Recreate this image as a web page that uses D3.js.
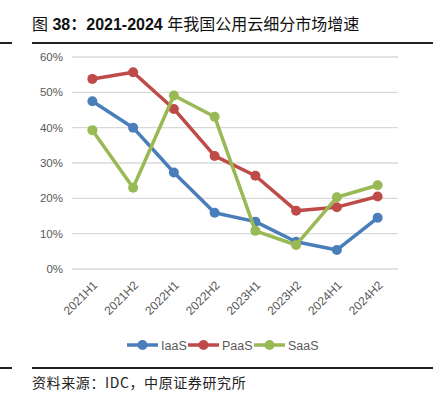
<!DOCTYPE html>
<html>
<head>
<meta charset="utf-8">
<script src="https://cdn.jsdelivr.net/npm/d3@7"></script>
<style>
  body { margin: 0; background: #fff; }
  svg { display: block; }
</style>
</head>
<body>
<svg id="chart" width="433" height="398"></svg>
<script>
var periods = ['2021H1', '2021H2', '2022H1', '2022H2', '2023H1', '2023H2', '2024H1', '2024H2'];
var iaas = [47.5, 40.0, 27.3, 15.9, 13.4, 7.7, 5.4, 14.5];
var paas = [53.8, 55.7, 45.3, 32.0, 26.4, 16.5, 17.5, 20.5];
var saas = [39.3, 23.0, 49.1, 43.1, 10.8, 6.8, 20.3, 23.7];
var yTicks = [0, 10, 20, 30, 40, 50, 60];

var series = [
    { name: 'IaaS', values: iaas, color: '#4a7ebb' },
    { name: 'PaaS', values: paas, color: '#be4b48' },
    { name: 'SaaS', values: saas, color: '#98b954' }
];

var svg = d3.select('#chart');
var cjk = '"Noto Sans CJK SC", "Liberation Sans", sans-serif';

// Title: digits bold, CJK regular
var title = svg.append('text')
    .attr('x', 32)
    .attr('y', 30)
    .style('font-family', '"Liberation Sans", "Noto Sans CJK SC", sans-serif')
    .style('font-size', '16px')
    .style('fill', '#111');
[['图 ', 'normal'], ['38：2021-2024 ', 'bold'], ['年我国公用云细分市场增速', 'normal']].forEach(function (p) {
    title.append('tspan').style('font-weight', p[1]).text(p[0]);
});

[43, 368].forEach(function (yy) {
    svg.append('line').attr('x1', 0).attr('x2', 12).attr('y1', yy).attr('y2', yy)
        .style('stroke', '#222').style('stroke-width', 2);
    svg.append('line').attr('x1', 32).attr('x2', 433).attr('y1', yy).attr('y2', yy)
        .style('stroke', '#222').style('stroke-width', 2);
});

svg.append('text')
    .attr('x', 32)
    .attr('y', 388)
    .style('font-family', cjk)
    .style('font-size', '14px')
    .style('letter-spacing', '0.6px')
    .style('fill', '#222')
    .text('资料来源：IDC，中原证券研究所');

// Scales
var x = d3.scaleBand().domain(periods).range([72, 398]);
var y = d3.scaleLinear().domain([0, 60]).range([269, 57]);

// Gridlines
svg.append('g')
    .selectAll('line')
    .data(yTicks)
    .enter().append('line')
    .attr('x1', 72)
    .attr('x2', 398)
    .attr('y1', function (d) { return y(d); })
    .attr('y2', function (d) { return y(d); })
    .style('stroke', '#d9d9d9')
    .style('stroke-width', 1.3);

// Y axis labels
svg.append('g')
    .selectAll('text')
    .data(yTicks)
    .enter().append('text')
    .attr('x', 63)
    .attr('y', function (d) { return y(d) + 4; })
    .attr('text-anchor', 'end')
    .style('font-family', '"Liberation Sans", sans-serif')
    .style('font-size', '11.5px')
    .style('fill', '#595959')
    .text(function (d) { return d + '%'; });

// X axis labels
svg.append('g')
    .selectAll('text')
    .data(periods)
    .enter().append('text')
    .attr('transform', function (d) {
        var cx = x(d) + x.bandwidth() / 2 + 3;
        return 'translate(' + cx + ',283) rotate(-45)';
    })
    .attr('text-anchor', 'end')
    .attr('dy', '0.35em')
    .style('font-family', '"Liberation Sans", sans-serif')
    .style('font-size', '12px')
    .style('fill', '#595959')
    .text(function (d) { return d; });

// Lines and markers
var line = d3.line()
    .x(function (d, i) { return x(periods[i]) + x.bandwidth() / 2; })
    .y(function (d) { return y(d); });

series.forEach(function (s) {
    var g = svg.append('g');
    g.append('path')
        .attr('d', line(s.values))
        .style('fill', 'none')
        .style('stroke', s.color)
        .style('stroke-width', 3.5)
        .style('stroke-linejoin', 'round');
    g.selectAll('circle')
        .data(s.values)
        .enter().append('circle')
        .attr('cx', function (d, i) { return x(periods[i]) + x.bandwidth() / 2; })
        .attr('cy', function (d) { return y(d); })
        .attr('r', 5)
        .style('fill', s.color);
});

// Legend
var legendX = [127, 188, 254];
series.forEach(function (s, i) {
    var g = svg.append('g').attr('transform', 'translate(' + legendX[i] + ',345)');
    g.append('line').attr('x1', 0).attr('x2', 31).attr('y1', 0).attr('y2', 0)
        .style('stroke', s.color).style('stroke-width', 3.5);
    g.append('circle').attr('cx', 15.5).attr('cy', 0).attr('r', 5).style('fill', s.color);
    g.append('text')
        .attr('x', 34)
        .attr('y', 4.5)
        .style('font-family', '"Liberation Sans", sans-serif')
        .style('font-size', '12.5px')
        .style('fill', '#595959')
        .text(s.name);
});
</script>
</body>
</html>
